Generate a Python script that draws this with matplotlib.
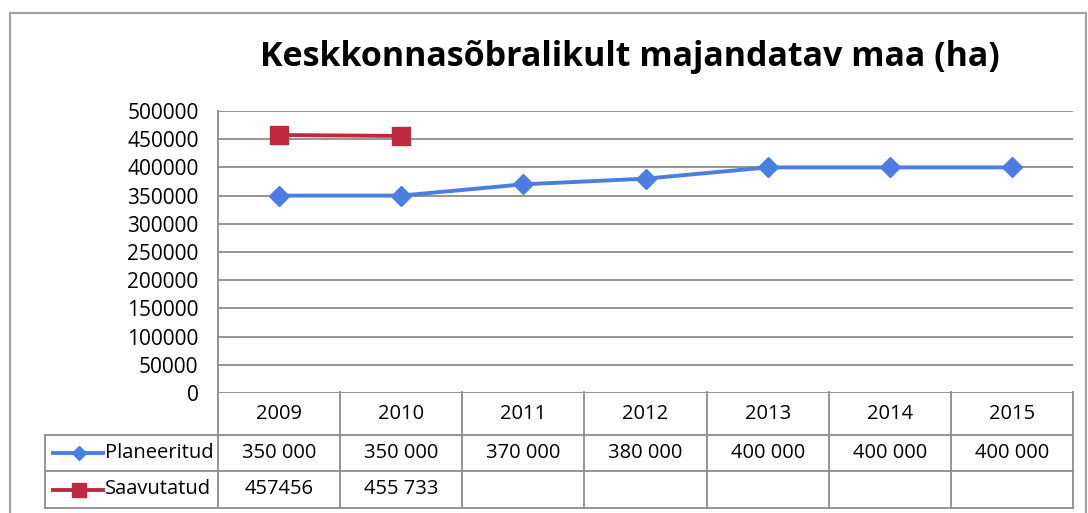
import matplotlib.pyplot as plt
from matplotlib.patches import Rectangle
from matplotlib.ticker import MultipleLocator

years = ['2009', '2010', '2011', '2012', '2013', '2014', '2015']
planeeritud = [350000, 350000, 370000, 380000, 400000, 400000, 400000]
saavutatud = [457456, 455733]
planeeritud_labels = ['350 000', '350 000', '370 000', '380 000', '400 000', '400 000', '400 000']
saavutatud_labels = ['457456', '455 733']

TITLE = 'Keskkonnasõbralikult majandatav maa (ha)'
BLUE = '#4a7ee0'
RED = '#c0283e'
GRID = '#8c8c8c'

plt.rcParams['font.family'] = ['Open Sans', 'DejaVu Sans']

W, H = 1088, 513
fig = plt.figure(figsize=(W / 100, H / 100), dpi=100)

# outer chart frame
fig.patches.append(Rectangle((10 / W, -0.1), (1086 - 10) / W, 1 - 13 / H + 0.1,
                             transform=fig.transFigure, fill=False,
                             edgecolor='#a0a0a0', linewidth=1.5))

fig.text(630 / W, 1 - 57 / H, TITLE, ha='center', va='center',
         fontsize=24.5, fontweight='bold')

# plot area
ax = fig.add_axes([218 / W, 1 - 393 / H, (1073 - 218) / W, (393 - 111) / H])
x = list(range(len(years)))
ax.plot(x, planeeritud, color=BLUE, linewidth=2.8, marker='D', markersize=10, zorder=3)
ax.plot(x[:len(saavutatud)], saavutatud, color=RED, linewidth=2.8, marker='s',
        markersize=12.5, zorder=3)
ax.set_xlim(-0.5, len(years) - 0.5)
ax.set_ylim(0, 500000)
ax.yaxis.set_major_locator(MultipleLocator(50000))
ax.grid(axis='y', color=GRID, linewidth=1.3)
ax.set_axisbelow(True)
ax.set_xticks([])
ax.tick_params(axis='y', length=0, pad=14, labelsize=15)
for s in ['top', 'right', 'bottom']:
    ax.spines[s].set_visible(False)
ax.spines['left'].set_color(GRID)
ax.spines['left'].set_linewidth(1.3)

# data table under the plot
legend_w = 173 / 122.1
x_left = -0.5 - legend_w
tb = fig.add_axes([45 / W, 1 - 508 / H, (1073 - 45) / W, (508 - 392) / H])
tb.set_xlim(x_left, len(years) - 0.5)
tb.set_ylim(116, 0)
tb.axis('off')
lw = 1.3
for yy in [43, 79, 116]:
    tb.plot([x_left, len(years) - 0.5], [yy, yy], color=GRID, linewidth=lw, clip_on=False)
for i in range(len(years) + 1):
    tb.plot([i - 0.5, i - 0.5], [0, 116], color=GRID, linewidth=lw, clip_on=False)
tb.plot([x_left, x_left], [43, 116], color=GRID, linewidth=lw, clip_on=False)

fs = 14.5
for i, yr in enumerate(years):
    tb.text(i, 22, yr, ha='center', va='center', fontsize=fs)
for i, lab in enumerate(planeeritud_labels):
    tb.text(i, 61, lab, ha='center', va='center', fontsize=fs)
for i, lab in enumerate(saavutatud_labels):
    tb.text(i, 97.5, lab, ha='center', va='center', fontsize=fs)

rows = [('Planeeritud', BLUE, 'D', 7, 61), ('Saavutatud', RED, 's', 10, 97.5)]
for name, col, mk, ms, yy in rows:
    tb.plot([x_left + 8 / 122, x_left + 58 / 122], [yy, yy], color=col, linewidth=2.8,
            clip_on=False)
    tb.plot([x_left + 34 / 122], [yy], color=col, marker=mk, markersize=ms, clip_on=False)
    tb.text(x_left + 60 / 122, yy, name, ha='left', va='center', fontsize=fs)

fig.savefig('out.png', dpi=100)
